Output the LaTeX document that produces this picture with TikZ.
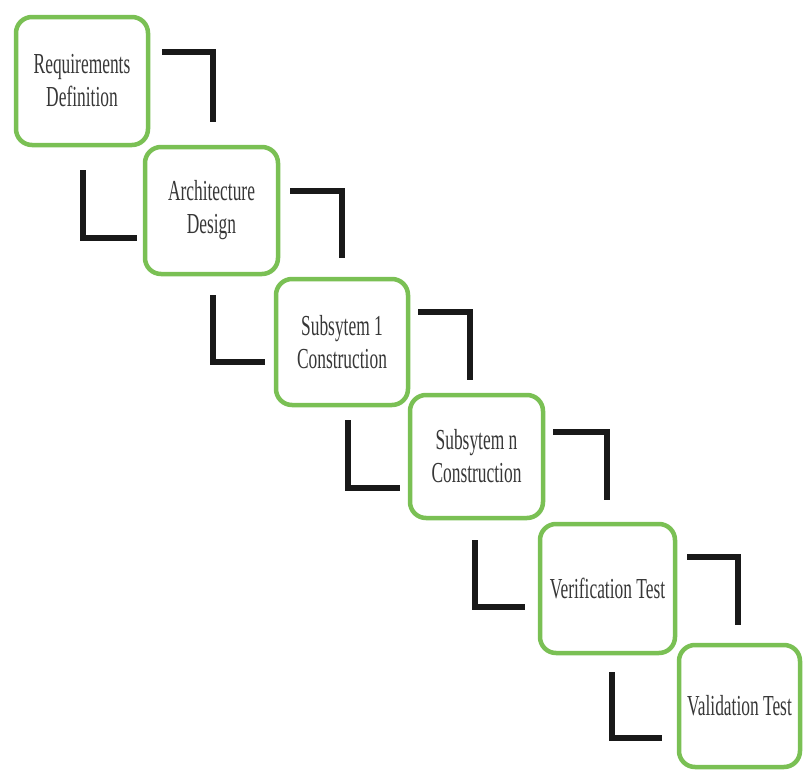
\documentclass[tikz,border=0pt]{standalone}
\usepackage{fontspec}
\setmainfont[FakeStretch=0.6]{Liberation Serif}
\definecolor{boxgreen}{RGB}{122,192,84}
\definecolor{textgray}{RGB}{55,55,55}
\begin{document}
\begin{tikzpicture}[x=1pt,y=-1pt,
  box/.style={draw=boxgreen, line width=4.5pt, rounded corners=16pt, fill=white,
    align=center, inner sep=0pt, text=textgray,
    font=\fontsize{29}{33}\selectfont},
  conn/.style={line width=5.5pt, draw=black!90, line join=miter}]
\useasboundingbox (0,0) rectangle (803,771);
% boxes
\node[box, minimum width=132pt, minimum height=128pt] (b1) at (82,81) {Requirements\\Definition};
\node[box, minimum width=133pt, minimum height=127pt] (b2) at (211.5,210.5) {Architecture\\Design};
\node[box, minimum width=132pt, minimum height=126pt] (b3) at (342,342) {Subsytem 1\\Construction};
\node[box, minimum width=133pt, minimum height=123pt] (b4) at (476.5,456.5) {Subsytem n\\Construction};
\node[box, minimum width=135pt, minimum height=129pt] (b5) at (607.5,588.5) {Verification Test};
\node[box, minimum width=121pt, minimum height=122pt] (b6) at (739.5,706) {Validation Test};
% connector points
\coordinate (r1a) at (162,52);  \coordinate (r1b) at (213,52);  \coordinate (r1c) at (213,122);
\coordinate (l2a) at (83,170);  \coordinate (l2b) at (83,238);  \coordinate (l2c) at (137,238);
\coordinate (r2a) at (290,191); \coordinate (r2b) at (342,191); \coordinate (r2c) at (342,258);
\coordinate (l3a) at (213,295); \coordinate (l3b) at (213,362); \coordinate (l3c) at (265,362);
\coordinate (r3a) at (418,312); \coordinate (r3b) at (470,312); \coordinate (r3c) at (470,380);
\coordinate (l4a) at (348,420); \coordinate (l4b) at (348,488); \coordinate (l4c) at (400,488);
\coordinate (r4a) at (553,432); \coordinate (r4b) at (607,432); \coordinate (r4c) at (607,500);
\coordinate (l5a) at (475,540); \coordinate (l5b) at (475,607); \coordinate (l5c) at (525,607);
\coordinate (r5a) at (687,557); \coordinate (r5b) at (738,557); \coordinate (r5c) at (738,625);
\coordinate (l6a) at (612,672); \coordinate (l6b) at (612,738); \coordinate (l6c) at (662,738);
% connectors
\foreach \c in {r1,l2,r2,l3,r3,l4,r4,l5,r5,l6}{
  \draw[conn] (\c a) -- (\c b) -- (\c c);
}
\end{tikzpicture}
\end{document}
